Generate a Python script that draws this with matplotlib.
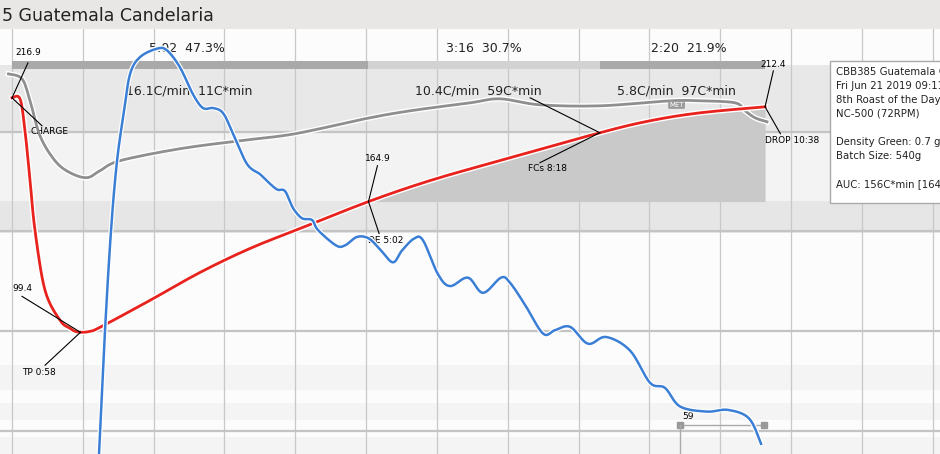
import numpy as np
import matplotlib
matplotlib.use("Agg")
import matplotlib.pyplot as plt
from matplotlib.patches import Rectangle

# ---- data (time in s, temps in C, RoR in C/min) ----
bt_t = [0, 6.8, 11, 15.3, 19.5, 28, 40.7, 49.2, 53.4, 59.3, 66, 74.6, 116.9, 159.3, 201.6, 244, 302, 354, 413, 498, 540.5, 583, 638]
bt_v = [216.9, 216.4, 200.4, 175.4, 150.4, 120.4, 105.4, 101.4, 99.9, 99.4, 99.9, 101.9, 115.4, 129.4, 141.4, 151.4, 164.9, 175.4, 185.4, 199.4, 205.4, 209.4, 212.4]
et_t = [-3, 8.5, 15.3, 23.7, 36.4, 49.1, 63.5, 74.6, 91.5, 142.3, 193.2, 239.8, 299, 337.2, 388, 413.5, 447.3, 498.2, 557.5, 583, 612.6, 621, 629.5, 639.7]
et_v = [228.9, 226.4, 215.4, 197.9, 185.4, 179.4, 176.9, 180.4, 185.4, 191.4, 195.4, 198.9, 206.4, 210.4, 214.4, 216.4, 213.4, 212.9, 215.4, 215.4, 214.4, 210.4, 206.9, 204.9]
ror_t = [73.7, 78.8, 83.9, 89, 94.9, 100, 108.4, 122.9, 131.3, 142.3, 153.4, 161.8, 170.3, 178.8, 187.2, 199.1, 210.1, 216, 224.5, 231.3, 238.1, 245.7, 254.2, 259.3, 274.5, 282.1, 292.3, 302.5, 312.6, 322.8, 330.4, 340.6, 348.2, 360.9, 371.1, 386.3, 399, 414.3, 421.9, 434.6, 449.9, 460, 472.8, 488, 503.3, 523.6, 540.5, 553.2, 566, 588.8, 606.6, 624.4, 634.6]
ror_v = [0, 7.3, 13.2, 17.3, 20.2, 22.4, 23.4, 23.9, 23.8, 22.8, 21.2, 20.4, 20.4, 20.1, 18.9, 17.1, 16.5, 16.1, 15.6, 15.5, 14.5, 13.9, 13.8, 13.2, 12.3, 12.3, 12.8, 12.7, 12.0, 11.3, 12.0, 12.7, 12.6, 10.6, 9.9, 10.4, 9.5, 10.4, 10.1, 8.8, 7.1, 7.3, 7.5, 6.5, 6.9, 6.1, 4.2, 3.9, 2.8, 2.5, 2.6, 2.1, 0.6]
phase_labels = ["5:02  47.3%", "3:16  30.7%", "2:20  21.9%"]
phase_rates = ["16.1C/min  11C*min", "10.4C/min  59C*min", "5.8C/min  97C*min"]
t_charge, t_tp, t_de, t_fcs, t_drop = 0, 58, 302, 498, 638
info = ["CBB385 Guatemala Candelaria", "Fri Jun 21 2019 09:11:00", "8th Roast of the Day",
        "NC-500 (72RPM)", "", "Density Green: 0.7 g/l", "Batch Size: 540g", "",
        "AUC: 156C*min [164.90C]"]

def smooth(x, y, n=8):
    x = np.asarray(x, float); y = np.asarray(y, float)
    P = np.vstack([x, y]).T
    P = np.vstack([P[0], P, P[-1]])
    out = []
    for i in range(1, len(P) - 2):
        p0, p1, p2, p3 = P[i-1], P[i], P[i+1], P[i+2]
        for s in np.linspace(0, 1, n, endpoint=False):
            out.append(0.5*((2*p1) + (-p0+p2)*s + (2*p0-5*p1+4*p2-p3)*s**2 + (-p0+3*p1-3*p2+p3)*s**3))
    out.append(P[-2])
    out = np.array(out)
    return out[:, 0], out[:, 1]

fig = plt.figure(figsize=(9.4, 4.54), dpi=100)
fig.patch.set_facecolor("#e9e6e6")
fig.text(0.002, 1 - 16/454, "5 Guatemala Candelaria", fontsize=12.5, va="center", ha="left", color="#222")
ax = fig.add_axes([0, 0, 1, 1 - 29/454])
ax.set_xlim(-10.17, 786.2)
ax.set_ylim(38.4, 251.4)
ax.axis("off")
ax.add_patch(Rectangle((0, 0), 1, 1, transform=ax.transAxes, color="#fdfcfc", zorder=0))

for lo, hi, c in [(200.4, 233.4, "#e8e8e8"), (165.4, 200.4, "#f3f3f3"), (149.4, 165.4, "#e6e6e6"),
                  (70.4, 82.9, "#f4f4f4"), (55.4, 63.9, "#f4f4f4"), (38.4, 46.9, "#f4f4f4")]:
    ax.axhspan(lo, hi, color=c, zorder=0.5, lw=0)
for s in range(0, 800, 60):
    ax.axvline(s, color="#c8c8c8", lw=0.9, zorder=1)
for tv in [50, 100, 150, 200]:
    ax.axhline(tv, color="#c4c4c4", lw=1.6, zorder=1)

# phase bars
ax.add_patch(Rectangle((t_charge, 231.4), t_de - t_charge, 4, color="#a9a9a9", zorder=2, lw=0))
ax.add_patch(Rectangle((t_de, 231.4), t_fcs - t_de, 4, color="#d2d2d2", zorder=2, lw=0))
ax.add_patch(Rectangle((t_fcs, 231.4), t_drop - t_fcs, 4, color="#a9a9a9", zorder=2, lw=0))
for (a, b), lab, rate in zip([(t_charge, t_de), (t_de, t_fcs), (t_fcs, t_drop)], phase_labels, phase_rates):
    ax.text((a+b)/2 + (-3 if a == 0 else 0) + (5 if a == t_fcs else 0), 241.4, lab, fontsize=9, ha="center", va="center", color="#222", zorder=6)
ax.text(150, 220.4, phase_rates[0], fontsize=9, ha="center", va="center", color="#222", zorder=6)
ax.text(395, 220.4, phase_rates[1], fontsize=9, ha="center", va="center", color="#222", zorder=6)
ax.text(563, 220.4, phase_rates[2], fontsize=9, ha="center", va="center", color="#222", zorder=6)

bx, by = smooth(bt_t, bt_v)
ex, ey = smooth(et_t, et_v)
m = (bx >= t_de) & (bx <= t_drop)
ax.fill_between(bx[m], 164.9, by[m], color="#c9c9c9", zorder=1.5, lw=0)
ax.plot(ex, ey, color="white", lw=4, zorder=3)
ax.plot(ex, ey, color="#8f8f8f", lw=2, zorder=3.1)
ax.plot(bx, by, color="white", lw=4, zorder=4)
ax.plot(bx, by, color="#e8231e", lw=2, zorder=4.1)

ax2 = ax.twinx()
ax2.set_ylim(0, 25.06)
ax2.axis("off")
rx, ry = smooth(ror_t, ror_v)
ax2.plot(rx, ry, color="white", lw=3.5, zorder=4)
ax2.plot(rx, ry, color="#3a7fd5", lw=1.8, zorder=4.1)

# event annotations
kw = dict(color="black", lw=0.8, zorder=5)
fs = 6.5
ax.plot([t_charge, 13.5], [216.9, 234.4], **kw)
ax.text(13.5, 237.4, "216.9", fontsize=fs, ha="center", va="bottom")
ax.plot([t_charge, 25.4], [216.9, 202.9], **kw)
ax.text(15.5, 199.9, "CHARGE", fontsize=fs, ha="left", va="center")
ax.plot([t_tp, 8.5], [99.4, 117.4], **kw)
ax.text(8.5, 121.4, "99.4", fontsize=fs, ha="center", va="center")
ax.plot([t_tp, 28], [99.4, 82.9], **kw)
ax.text(8.5, 79.4, "TP 0:58", fontsize=fs, ha="left", va="center")
ax.plot([t_de, 309.6], [164.9, 182.9], **kw)
ax.text(309.6, 186.4, "164.9", fontsize=fs, ha="center", va="center")
ax.plot([t_de, 311], [164.9, 148.9], **kw)
ax.text(302, 145.4, "DE 5:02", fontsize=fs, ha="left", va="center")
ax.plot([t_fcs, 439], [199.4, 216.9], **kw)
ax.plot([t_fcs, 447.3], [199.4, 184.4], **kw)
ax.text(437, 181.4, "FCs 8:18", fontsize=fs, ha="left", va="center")
ax.plot([t_drop, 645], [212.4, 230.4], **kw)
ax.text(645, 233.4, "212.4", fontsize=fs, ha="center", va="center")
ax.plot([t_drop, 651], [212.4, 198.9], **kw)
ax.text(638, 195.4, "DROP 10:38", fontsize=fs, ha="left", va="center")
ax.text(563, 213.4, "MET", fontsize=5, ha="center", va="center", color="white",
        bbox=dict(boxstyle="round,pad=0.15", fc="#9a9a9a", ec="none"), zorder=5)

# 59 marker
ax.plot([566, 637], [52.9, 52.9], color="#aaaaaa", lw=1, zorder=5)
ax.plot([566, 637], [52.9, 52.9], ls="none", marker="s", ms=4, color="#999999", zorder=5)
ax.plot([566, 566], [52.9, 30], color="#aaaaaa", lw=1, zorder=5)
ax.text(573, 57, "59", fontsize=fs, ha="center", va="center")

# info box
ax.add_patch(Rectangle((693, 164.4), 200, 71, fc="white", ec="#aaaaaa", lw=1, zorder=6, clip_on=True))
yy = 229.9
for line in info:
    ax.text(698, yy, line, fontsize=7.3, ha="left", va="center", zorder=7, clip_on=True, color="#222")
    yy -= 7.0

fig.savefig("out.png", dpi=100, facecolor=fig.get_facecolor())
